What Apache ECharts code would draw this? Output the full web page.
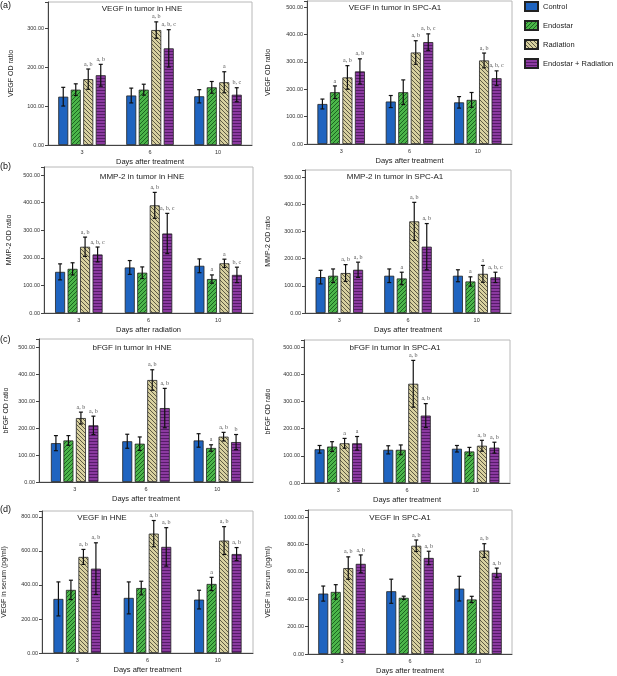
<!DOCTYPE html>
<html lang="en">
<head>
<meta charset="UTF-8">
<script src="https://cdn.jsdelivr.net/npm/echarts@6/dist/echarts.min.js"></script>
<title>VEGF, MMP-2 and bFGF after Endostar and radiation</title>
<style>
  body { margin: 0; background: #fff; }
  #chart { width: 617px; height: 676px; }
</style>
</head>
<body>
<div id="chart"></div>
<script>
var days = ['3', '6', '10'];
var groups = ['Control', 'Endostar', 'Radiation', 'Endostar + Radiation'];

// values are [group][day]
// (a) VEGF in tumor in HNE
var vegfHneMean = [[124, 127, 125], [142, 142, 148], [169, 295, 161], [179, 248, 129]];
var vegfHneSd = [[24, 19, 17], [15, 14, 15], [26, 21, 27], [28, 48, 18]];
var vegfHneSig = [['', '', ''], ['', '', ''], ['a, b', 'a, b', 'a'], ['a, b', 'a, b, c', 'b, c']];
// (a) VEGF in tumor in SPC-A1
var vegfSpcMean = [[146, 155, 152], [189, 189, 161], [243, 334, 305], [265, 372, 240]];
var vegfSpcSd = [[18, 22, 21], [23, 45, 27], [43, 43, 27], [46, 30, 27]];
var vegfSpcSig = [['', '', ''], ['a', '', ''], ['a, b', 'a, b', 'a, b'], ['a, b', 'a, b, c', 'a, b, c']];
// (b) MMP-2 in tumor in HNE
var mmpHneMean = [[149, 165, 171], [160, 146, 123], [240, 390, 180], [212, 288, 138]];
var mmpHneSd = [[29, 25, 25], [22, 21, 15], [35, 47, 15], [27, 73, 28]];
var mmpHneSig = [['', '', ''], ['', '', 'a'], ['a, b', 'a, b', 'a'], ['a, b, c', 'a, b, c', 'b, c']];
// (b) MMP-2 in tumor in SPC-A1
var mmpSpcMean = [[132, 137, 137], [137, 127, 116], [147, 337, 144], [159, 244, 131]];
var mmpSpcSd = [[25, 25, 22], [25, 23, 17], [31, 70, 31], [28, 85, 19]];
var mmpSpcSig = [['', '', ''], ['', 'a', 'a'], ['a, b', 'a, b', 'a'], ['a, b', 'a, b', 'a, b, c']];
// (c) bFGF in tumor in HNE
var bfgfHneMean = [[144, 151, 154], [154, 142, 126], [237, 378, 168], [210, 274, 148]];
var bfgfHneSd = [[28, 26, 25], [18, 25, 12], [22, 38, 16], [34, 73, 28]];
var bfgfHneSig = [['', '', ''], ['', '', 'a'], ['a, b', 'a, b', 'a, b'], ['a, b', 'a, b', 'b']];
// (c) bFGF in tumor in SPC-A1
var bfgfSpcMean = [[124, 122, 126], [134, 122, 116], [146, 365, 137], [146, 248, 130]];
var bfgfSpcSd = [[14, 15, 12], [18, 18, 15], [18, 86, 20], [25, 44, 20]];
var bfgfSpcSig = [['', '', ''], ['', '', ''], ['a', 'a, b', 'a, b'], ['a', 'a, b', 'a, b']];
// (d) VEGF in serum, HNE
var serumHneMean = [[318, 324, 314], [371, 382, 406], [565, 702, 661], [496, 624, 582]];
var serumHneSd = [[100, 94, 55], [57, 40, 39], [44, 77, 82], [152, 113, 38]];
var serumHneSig = [['', '', ''], ['', '', 'a'], ['a, b', 'a, b', 'a, b'], ['a, b', 'a, b', 'a, b']];
// (d) VEGF in serum, SPC-A1
var serumSpcMean = [[441, 458, 477], [453, 410, 398], [627, 790, 755], [658, 701, 592]];
var serumSpcSd = [[55, 88, 90], [53, 12, 23], [82, 42, 50], [65, 49, 35]];
var serumSpcSig = [['', '', ''], ['', '', ''], ['a, b', 'a, b', 'a, b'], ['a, b', 'a, b', 'a, b']];

var panels = [
  { title: 'VEGF in tumor in HNE', yName: 'VEGF OD ratio', xName: 'Days after treatment',
    mean: vegfHneMean, sd: vegfHneSd, sig: vegfHneSig, max: 367, step: 100,
    grid: [48, 2, 204, 143], yGap: 33, tx: 142, ty: 9 },
  { title: 'VEGF in tumor in SPC-A1', yName: 'VEGF OD ratio', xName: 'Days after treatment',
    mean: vegfSpcMean, sd: vegfSpcSd, sig: vegfSpcSig, max: 522, step: 100,
    grid: [307, 1, 205, 143], yGap: 35, tx: 395, ty: 8 },
  { title: 'MMP-2 in tumor in HNE', yName: 'MMP-2 OD ratio', xName: 'Days after radiation',
    mean: mmpHneMean, sd: mmpHneSd, sig: mmpHneSig, max: 529, step: 100,
    grid: [44, 167, 209, 146], yGap: 31, tx: 142, ty: 177 },
  { title: 'MMP-2 in tumor in SPC-A1', yName: 'MMP-2 OD ratio', xName: 'Days after treatment',
    mean: mmpSpcMean, sd: mmpSpcSd, sig: mmpSpcSig, max: 526, step: 100,
    grid: [305, 170, 206, 143], yGap: 33, tx: 395, ty: 177 },
  { title: 'bFGF in tumor in HNE', yName: 'bFGF OD ratio', xName: 'Days after treatment',
    mean: bfgfHneMean, sd: bfgfHneSd, sig: bfgfHneSig, max: 530, step: 100,
    grid: [39, 339, 214, 143], yGap: 29, tx: 132, ty: 348 },
  { title: 'bFGF in tumor in SPC-A1', yName: 'bFGF OD ratio', xName: 'Days after treatment',
    mean: bfgfSpcMean, sd: bfgfSpcSd, sig: bfgfSpcSig, max: 526, step: 100,
    grid: [304, 340, 206, 143], yGap: 32, tx: 395, ty: 348 },
  { title: 'VEGF in HNE', yName: 'VEGF in serum (pg/ml)', xName: 'Days after treatment',
    mean: serumHneMean, sd: serumHneSd, sig: serumHneSig, max: 835, step: 200,
    grid: [39, 511, 214, 142], yGap: 34, tx: 102, ty: 518 },
  { title: 'VEGF in SPC-A1', yName: 'VEGF in serum (pg/ml)', xName: 'Days after treatment',
    mean: serumSpcMean, sd: serumSpcSd, sig: serumSpcSig, max: 1051, step: 200,
    grid: [308, 510, 204, 144], yGap: 36, tx: 400, ty: 518 }
];

var letters = [['(a)', 6], ['(b)', 167], ['(c)', 340], ['(d)', 510]];

// hatch fills like the SPSS bars
function hatch(base, line, kind) {
  var s = kind === 'h' ? 3 : 4;
  var c = document.createElement('canvas');
  c.width = s; c.height = s;
  var g = c.getContext('2d');
  g.fillStyle = base;
  g.fillRect(0, 0, s, s);
  g.strokeStyle = line;
  g.lineWidth = 1;
  g.beginPath();
  if (kind === 'h') {
    g.moveTo(0, 0.5); g.lineTo(s, 0.5);
  } else if (kind === '/') {
    g.moveTo(0, s); g.lineTo(s, 0);
    g.moveTo(-s / 2, s / 2); g.lineTo(s / 2, -s / 2);
    g.moveTo(s / 2, s * 1.5); g.lineTo(s * 1.5, s / 2);
  } else {
    g.moveTo(0, 0); g.lineTo(s, s);
    g.moveTo(-s / 2, s / 2); g.lineTo(s / 2, s * 1.5);
    g.moveTo(s / 2, -s / 2); g.lineTo(s * 1.5, s / 2);
  }
  g.stroke();
  return { image: c, repeat: 'repeat' };
}

var fills = [
  '#1f64c0',
  hatch('#4cb64a', '#1b6620', '/'),
  hatch('#d8d1a0', '#5e5a44', '\\'),
  hatch('#8b3aa0', '#561b68', 'h')
];
var barW = 10;
var offsets = [-18.75, -6.25, 6.25, 18.75];
var font = '"Liberation Sans", Arial, sans-serif';

var grids = [], xAxes = [], yAxes = [], series = [], graphics = [];

panels.forEach(function (p, i) {
  grids.push({ left: p.grid[0], top: p.grid[1], width: p.grid[2], height: p.grid[3],
    show: true, borderColor: '#b8b8b8', borderWidth: 1 });
  xAxes.push({
    type: 'category', gridIndex: i, data: days,
    axisLine: { lineStyle: { color: '#444', width: 1 } },
    axisTick: { alignWithLabel: true, length: 3, lineStyle: { color: '#444' } },
    axisLabel: { fontSize: 5.5, color: '#333', margin: 4, fontFamily: font },
    name: p.xName, nameLocation: 'middle', nameGap: 13,
    nameTextStyle: { fontSize: 7.5, color: '#222', fontFamily: font }
  });
  yAxes.push({
    type: 'value', gridIndex: i, min: 0, max: p.max, interval: p.step,
    axisLine: { show: true, lineStyle: { color: '#444', width: 1 } },
    axisTick: { show: true, length: 3, lineStyle: { color: '#444' } },
    splitLine: { show: false },
    axisLabel: { fontSize: 5.5, color: '#333', margin: 4, fontFamily: font,
      formatter: function (v) { return v % p.step ? '' : v.toFixed(2); } },
    name: p.yName, nameLocation: 'middle', nameGap: p.yGap,
    nameTextStyle: { fontSize: 7, color: '#222', fontFamily: font }
  });
  groups.forEach(function (g, gi) {
    series.push({
      type: 'bar', name: g, xAxisIndex: i, yAxisIndex: i,
      data: p.mean[gi], barWidth: barW, barGap: '25%',
      itemStyle: { color: fills[gi], borderColor: '#222', borderWidth: 0.8 }
    });
  });
  var errData = [];
  groups.forEach(function (g, gi) {
    days.forEach(function (d, ci) { errData.push([ci, p.mean[gi][ci]]); });
  });
  series.push({
    type: 'custom', name: 'err' + i, xAxisIndex: i, yAxisIndex: i, silent: true, z: 5,
    data: errData,
    encode: { x: 0, y: 1 },
    renderItem: function (params, api) {
      var k = params.dataIndex, gi = Math.floor(k / 3), ci = k % 3;
      var m = p.mean[gi][ci], sd = p.sd[gi][ci], sig = p.sig[gi][ci];
      var x = api.coord([ci, m])[0] + offsets[gi];
      var yt = api.coord([ci, m + sd])[1], yb = api.coord([ci, m - sd])[1];
      var st = { stroke: '#111', lineWidth: 1.2 };
      var kids = [
        { type: 'line', shape: { x1: x, y1: yt, x2: x, y2: yb }, style: st },
        { type: 'line', shape: { x1: x - 2, y1: yt, x2: x + 2, y2: yt }, style: st },
        { type: 'line', shape: { x1: x - 2, y1: yb, x2: x + 2, y2: yb }, style: st }
      ];
      if (sig) {
        kids.push({ type: 'text', style: { text: sig, x: x, y: yt - 2,
          align: 'center', verticalAlign: 'bottom',
          font: '6px "Liberation Serif", serif', fill: '#555' } });
      }
      return { type: 'group', children: kids };
    }
  });
  graphics.push({ type: 'text', x: p.tx, y: p.ty,
    style: { text: p.title, font: '8px ' + font, fill: '#222',
      align: 'center', verticalAlign: 'middle' } });
});

letters.forEach(function (l) {
  graphics.push({ type: 'text', x: 0, y: l[1],
    style: { text: l[0], font: '9px ' + font, fill: '#111', verticalAlign: 'middle' } });
});

var chart = echarts.init(document.getElementById('chart'), null, { renderer: 'canvas' });
chart.setOption({
  animation: false,
  backgroundColor: '#fff',
  grid: grids,
  xAxis: xAxes,
  yAxis: yAxes,
  legend: {
    data: groups, orient: 'vertical', left: 524, top: 1, padding: 0,
    itemWidth: 13, itemHeight: 9, itemGap: 8, icon: 'rect',
    textStyle: { fontSize: 7.5, color: '#222', fontFamily: font }
  },
  graphic: graphics,
  series: series
});
</script>
</body>
</html>
